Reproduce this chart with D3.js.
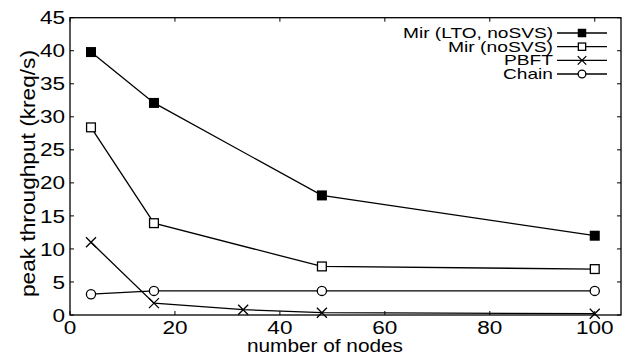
<!DOCTYPE html>
<html>
<head>
<meta charset="utf-8">
<script src="https://cdn.jsdelivr.net/npm/d3@7"></script>
<style>
html,body{margin:0;padding:0;background:#fff;}
svg{display:block;font-family:"Liberation Sans",Arial,Helvetica,sans-serif;}
</style>
</head>
<body>
<svg id="chart" width="626" height="356"></svg>
<script>
const seriesNames = ["Mir (LTO, noSVS)", "Mir (noSVS)", "PBFT", "Chain"];
const markerTypes = ["filledSquare", "openSquare", "cross", "circle"];
const mirLTO_x = [4, 16, 48, 100];
const mirLTO_y = [39.8, 32.1, 18.1, 12.0];
const mirNoSVS_x = [4, 16, 48, 100];
const mirNoSVS_y = [28.4, 13.9, 7.35, 6.95];
const pbft_x = [4, 16, 33, 48, 100];
const pbft_y = [11.0, 1.8, 0.8, 0.35, 0.2];
const chain_x = [4, 16, 48, 100];
const chain_y = [3.15, 3.65, 3.65, 3.65];
const xTicks = [0, 20, 40, 60, 80, 100];
const yTicks = [0, 5, 10, 15, 20, 25, 30, 35, 40, 45];
const xLabel = "number of nodes";
const yLabel = "peak throughput (kreq/s)";

const series = [
  {name: seriesNames[0], marker: markerTypes[0], xs: mirLTO_x, ys: mirLTO_y},
  {name: seriesNames[1], marker: markerTypes[1], xs: mirNoSVS_x, ys: mirNoSVS_y},
  {name: seriesNames[2], marker: markerTypes[2], xs: pbft_x, ys: pbft_y},
  {name: seriesNames[3], marker: markerTypes[3], xs: chain_x, ys: chain_y}
];

const svg = d3.select("#chart");
const L = 70, R = 621, T = 17.7, B = 315;
const x = d3.scaleLinear().domain([0, 105]).range([L, R]);
const y = d3.scaleLinear().domain([0, 45]).range([B, T]);
const tickLen = 4;
const fs = 18.5;
const sx = 1.22; // reference font is wider than Liberation Sans

function stext(sel, tx, ty, str, size, anchor, scale) {
  const gg = sel.append("g").attr("transform", `translate(${tx},${ty}) scale(${scale},1)`);
  return gg.append("text").attr("x", 0).attr("y", 0).attr("text-anchor", anchor).attr("font-size", size).text(str);
}

// ticks (inward, mirrored)
const g = svg.append("g");
xTicks.forEach(t => {
  g.append("line").attr("x1", x(t)).attr("x2", x(t)).attr("y1", B).attr("y2", B - tickLen).attr("stroke", "#000").attr("stroke-width", 1);
  g.append("line").attr("x1", x(t)).attr("x2", x(t)).attr("y1", T).attr("y2", T + tickLen).attr("stroke", "#000").attr("stroke-width", 1);
  stext(g, x(t), 334, t, fs, "middle", sx);
});
yTicks.forEach(t => {
  g.append("line").attr("x1", L).attr("x2", L + tickLen).attr("y1", y(t)).attr("y2", y(t)).attr("stroke", "#000").attr("stroke-width", 1);
  g.append("line").attr("x1", R).attr("x2", R - tickLen).attr("y1", y(t)).attr("y2", y(t)).attr("stroke", "#000").attr("stroke-width", 1);
  stext(g, 65, y(t) + 6.6, t, fs, "end", sx);
});

// border
svg.append("rect").attr("x", L).attr("y", T).attr("width", R - L).attr("height", B - T)
  .attr("fill", "none").attr("stroke", "#000").attr("stroke-width", 1.3);

// axis labels
svg.append("text").attr("x", 325).attr("y", 351.5).attr("text-anchor", "middle").attr("font-size", 18.5)
  .attr("textLength", 156).attr("lengthAdjust", "spacingAndGlyphs").text(xLabel);
svg.append("text").attr("transform", "translate(35,173.5) rotate(-90)").attr("text-anchor", "middle").attr("font-size", 19.5)
  .attr("textLength", 247).attr("lengthAdjust", "spacingAndGlyphs").text(yLabel);

function drawMarker(sel, type, cx, cy, s) {
  const h = s / 2;
  if (type === "filledSquare") {
    sel.append("rect").attr("x", cx - h).attr("y", cy - h).attr("width", s).attr("height", s).attr("fill", "#000");
  } else if (type === "openSquare") {
    sel.append("rect").attr("x", cx - h + 0.6).attr("y", cy - h + 0.6).attr("width", s - 1.2).attr("height", s - 1.2)
      .attr("fill", "#fff").attr("stroke", "#000").attr("stroke-width", 1.3);
  } else if (type === "cross") {
    sel.append("path").attr("d", `M${cx - h},${cy - h}L${cx + h},${cy + h}M${cx - h},${cy + h}L${cx + h},${cy - h}`)
      .attr("stroke", "#000").attr("stroke-width", 1.3).attr("fill", "none");
  } else if (type === "circle") {
    sel.append("circle").attr("cx", cx).attr("cy", cy).attr("r", h - 0.4).attr("fill", "#fff").attr("stroke", "#000").attr("stroke-width", 1.3);
  }
}

const line = d3.line().x(d => x(d[0])).y(d => y(d[1]));
const plot = svg.append("g");
series.forEach(s => {
  const pts = s.xs.map((v, i) => [v, s.ys[i]]);
  plot.append("path").attr("d", line(pts)).attr("fill", "none").attr("stroke", "#000").attr("stroke-width", 1.3);
});
series.forEach(s => {
  s.xs.forEach((v, i) => drawMarker(plot, s.marker, x(v), y(s.ys[i]), 10));
});

// legend
const lg = svg.append("g");
const legY = [33, 46.7, 60.4, 74];
const legW = [150, 105, 49, 50];
series.forEach((s, i) => {
  lg.append("text").attr("x", 553).attr("y", legY[i] + 5).attr("text-anchor", "end").attr("font-size", 14.2)
    .attr("textLength", legW[i]).attr("lengthAdjust", "spacingAndGlyphs").text(s.name);
  lg.append("line").attr("x1", 557).attr("x2", 607).attr("y1", legY[i]).attr("y2", legY[i]).attr("stroke", "#000").attr("stroke-width", 1.3);
  drawMarker(lg, s.marker, 582, legY[i], 8.5);
});
</script>
</body>
</html>
